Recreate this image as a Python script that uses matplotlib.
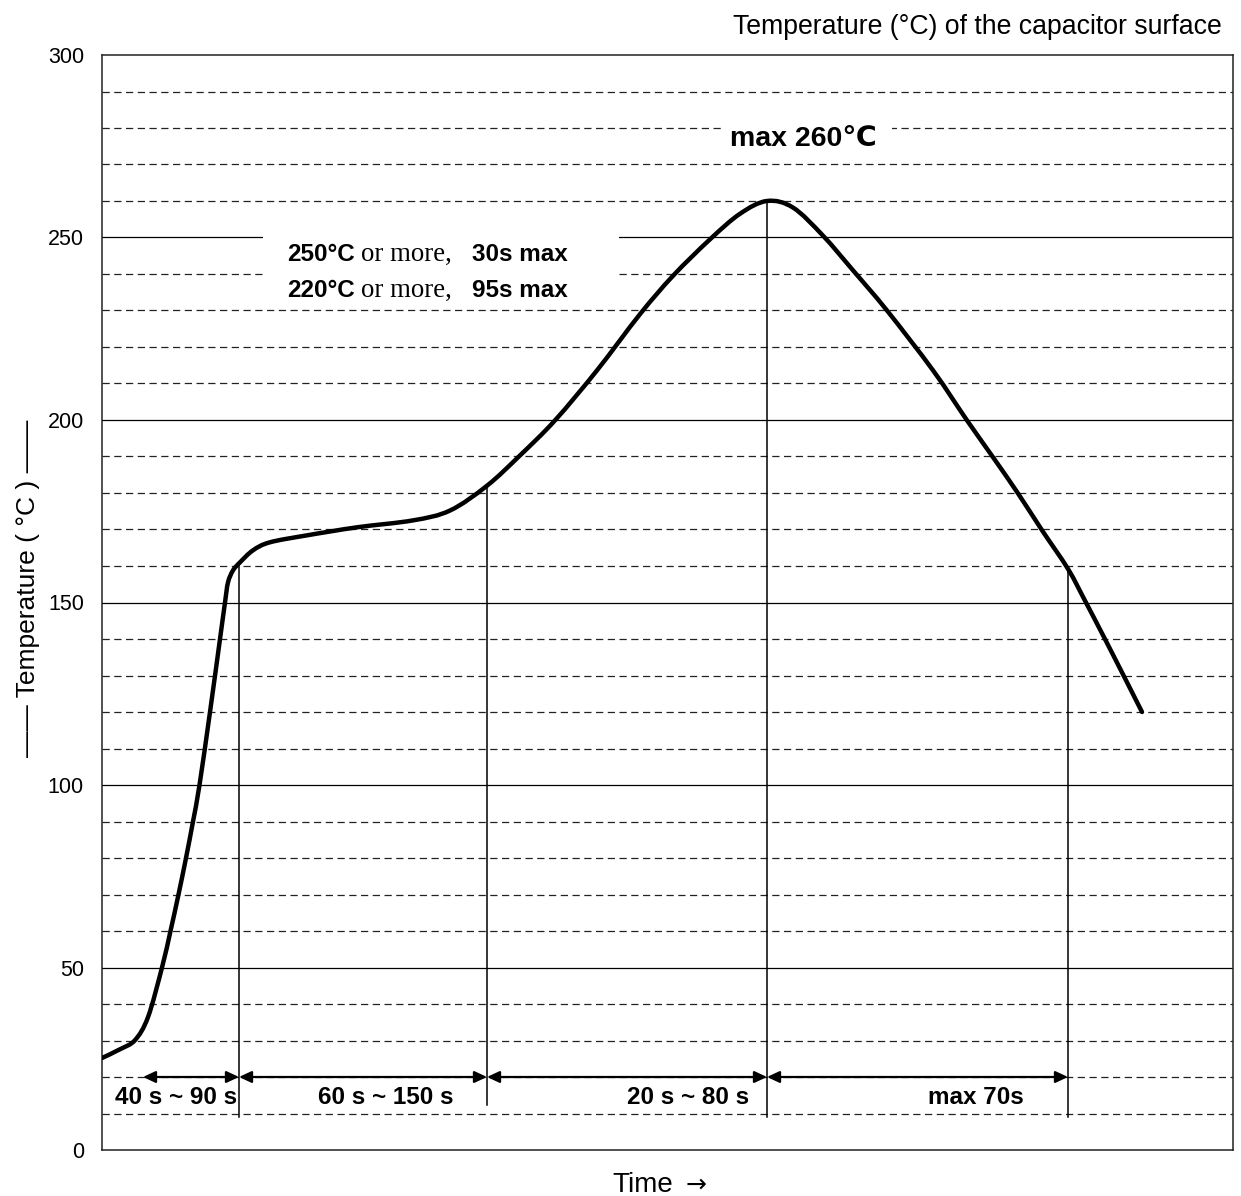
import matplotlib
matplotlib.use("Agg")
import matplotlib.pyplot as plt
from matplotlib.patches import Rectangle, PathPatch
from matplotlib.path import Path
import numpy as np

plt.rcParams['font.family'] = ['Liberation Sans', 'DejaVu Sans']

# reflow profile, time in arbitrary units (no scale on the chart)
time = [0, 18, 33, 46, 60, 68.5, 76.5, 84, 91, 97.5, 108, 118, 123, 126,
        131, 138, 151, 168, 205, 255, 311, 348, 385, 418, 453, 495, 538,
        571, 608, 638, 665, 691, 721, 751, 785, 831, 865, 891, 916, 940,
        966, 983, 1002, 1021, 1040]
temp = [25.2, 27.6, 30.1, 36.4, 50, 60, 70, 80, 90, 100, 120, 140, 150,
        155.5, 158.8, 161, 164.3, 166.5, 168.4, 170.6, 172.5, 175.2, 182,
        190.3, 199.9, 213.6, 229.0, 239.5, 249.5, 256.5, 260, 258.2, 250.5,
        241, 230, 213.6, 199.9, 189.8, 179.9, 169.8, 159.2, 150.5, 140.5,
        130.3, 120]

# phase boundaries (time) and the curve temperature where each marker starts
phase_t = [41, 137, 385, 665, 966]
marker_top = [161, 182, 260, 159.2]
marker_bottom = [9, 12.3, 9, 9]
phase_labels = ['40 s ~ 90 s', '60 s ~ 150 s', '20 s ~ 80 s', 'max 70s']
label_x = [74, 284, 586, 874]

yticks = [0, 50, 100, 150, 200, 250, 300]


def smooth_path(xs, ys):
    # Catmull-Rom through the points, as cubic bezier segments
    p = np.column_stack([xs, ys]).astype(float)
    p = np.vstack([p[0], p, p[-1]])
    verts = [p[1]]
    codes = [Path.MOVETO]
    for i in range(1, len(p) - 2):
        c1 = p[i] + (p[i + 1] - p[i - 1]) / 6
        c2 = p[i + 1] - (p[i + 2] - p[i]) / 6
        verts += [c1, c2, p[i + 1]]
        codes += [Path.CURVE4] * 3
    return Path(verts, codes)


fig = plt.figure(figsize=(12.41, 11.96), dpi=100)
ax = fig.add_axes([102 / 1241, 46 / 1196, 1131 / 1241, 1095 / 1196])
ax.set_xlim(0, 1131)
ax.set_ylim(0, 300)

# grid: solid every 50, dashed every 10
for v in range(10, 300, 10):
    if v % 50 == 0:
        ax.axhline(v, color='black', lw=0.9, zorder=1)
    else:
        ax.axhline(v, color='#222222', lw=0.9, ls=(0, (5.8, 3.6)), zorder=1)

# white patches behind the annotations
ax.add_patch(Rectangle((161, 233), 356, 23, fc='white', ec='none', zorder=2))
ax.add_patch(Rectangle((621, 272), 169, 12, fc='white', ec='none', zorder=2))

ax.add_patch(PathPatch(smooth_path(time, temp), fc='none', ec='black', lw=3.2,
                       joinstyle='round', capstyle='round', zorder=5))

for x, top, bot in zip(phase_t[1:], marker_top, marker_bottom):
    ax.plot([x, x], [bot, top], color='black', lw=1.1, zorder=4)

for a, b in zip(phase_t[:-1], phase_t[1:]):
    ax.annotate('', xy=(b, 20), xytext=(a, 20),
                arrowprops=dict(arrowstyle='<|-|>,head_length=0.75,head_width=0.35',
                                color='black', lw=1.6, shrinkA=0, shrinkB=0,
                                mutation_scale=10), zorder=6)

for x, lab in zip(label_x, phase_labels):
    ax.text(x, 14.5, lab, ha='center', va='center', fontsize=17.5,
            fontweight='bold', zorder=7)

# conditions text (mixed fonts)
for y, t1, t2 in [(245.3, '250°C', '30s max'), (235.5, '220°C', '95s max')]:
    ax.text(185, y, t1, ha='left', va='center', fontsize=17.5, fontweight='bold', zorder=7)
    ax.text(259, y, 'or more,', ha='left', va='center', fontsize=19.3,
            family=['Liberation Serif', 'DejaVu Serif'], zorder=7)
    ax.text(370, y, t2, ha='left', va='center', fontsize=17.5, fontweight='bold', zorder=7)

ax.text(628, 277, 'max 260℃', ha='left', va='center', fontsize=20.5,
        fontweight='bold', zorder=7)

ax.set_xticks([])
ax.set_yticks(yticks)
ax.set_yticklabels([str(v) for v in yticks], fontsize=15.5)
ax.tick_params(axis='y', length=0, pad=13)
for s in ax.spines.values():
    s.set_linewidth(1.1)
    s.set_color('#222222')

fig.text(1222 / 1241, 1 - 27 / 1196, 'Temperature (°C) of the capacitor surface',
         ha='right', va='center', fontsize=19.2)
fig.text(612 / 1241, 1 - 1185 / 1196, 'Time', ha='left', va='center', fontsize=20)
fig.text(686 / 1241, 1 - 1185 / 1196, '→', ha='left', va='center', fontsize=18,
         family=['DejaVu Sans'])
fig.text(28 / 1241, 1 - 588 / 1196, '—— Temperature ( °C ) ——', rotation=90,
         ha='center', va='center', fontsize=19)

fig.savefig('out.png', dpi=100)
